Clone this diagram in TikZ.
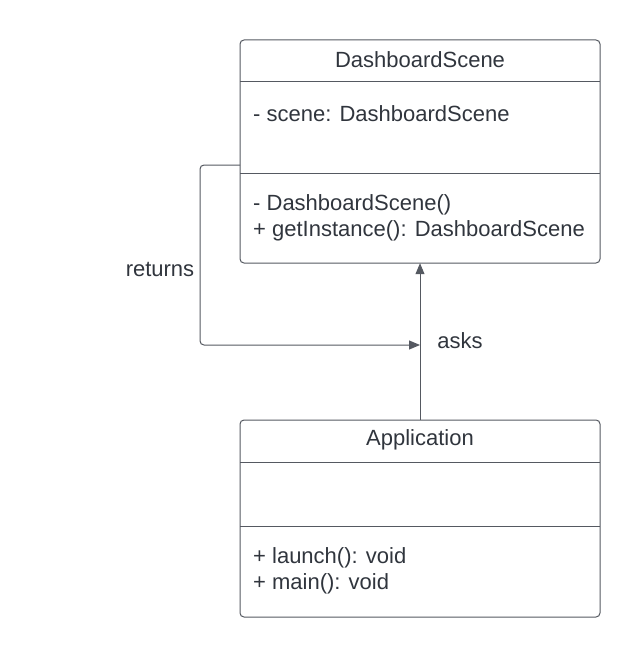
\documentclass[tikz,border=0pt]{standalone}
\usepackage{fontspec}
\setmainfont{Liberation Sans}
\usetikzlibrary{arrows.meta}
\definecolor{txt}{HTML}{30353D}
\definecolor{ln}{HTML}{555961}
\tikzset{
  umlbox/.style={draw=ln, line width=1pt, rounded corners=4pt},
  sep/.style={draw=ln, line width=1pt},
  lbl/.style={text=txt, font=\fontsize{22}{25}\selectfont, inner sep=0pt},
  conn/.style={draw=ln, line width=1pt, -{Triangle[length=11pt,width=9pt]}},
}
\begin{document}
\begin{tikzpicture}[x=1pt,y=-1pt]
\useasboundingbox (0,0) rectangle (640,658);
% DashboardScene
\draw[umlbox] (240,40) rectangle (600,263);
\coordinate (dsL) at (240,165);
\node (dsbox) at (420,151.5) [minimum width=360pt, minimum height=223pt, inner sep=0pt] {};
\draw[sep] (240,82) -- (600,82);
\draw[sep] (240,173) -- (600,173);
\node[lbl] (dst) at (420,59.5) {DashboardScene};
\node[lbl, anchor=west] (dsa) at (253,113.5) {- scene: DashboardScene};
\node[lbl, anchor=west] (dsm1) at (253,204.5) {- DashboardScene()};
\node[lbl, anchor=west] (dsm2) at (253,230.5) {+ getInstance(): DashboardScene};
% Application
\draw[umlbox] (240,420) rectangle (600,617);
\node (appbox) at (420,518.5) [minimum width=360pt, minimum height=197pt, inner sep=0pt] {};
\draw[sep] (240,462) -- (600,462);
\draw[sep] (240,526) -- (600,526);
\node[lbl] (appt) at (420,439.5) {Application};
\node[lbl, anchor=west] (appm1) at (253,557.5) {+ launch(): void};
\node[lbl, anchor=west] (appm2) at (253,583.5) {+ main(): void};
% connectors
\draw[conn] (appbox.north) -- (dsbox.south);
\node[lbl] (asks) at (460,341) {asks};
\coordinate (retEnd) at (420,345);
\draw[conn, rounded corners=4pt] (dsL) -- (200,165) -- (200,345) -- (retEnd);
\node[lbl] (returns) at (160,269) {returns};
\end{tikzpicture}
\end{document}
